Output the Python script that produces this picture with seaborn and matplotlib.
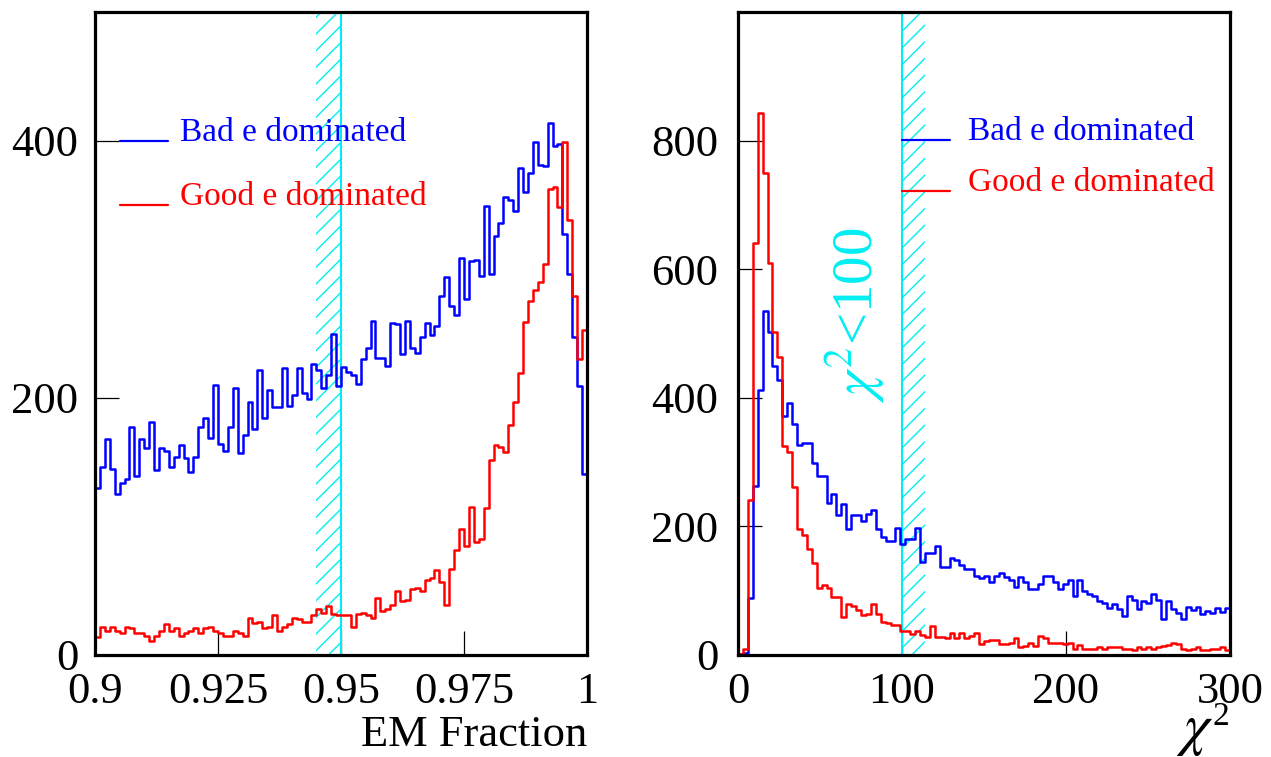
import numpy as np
import pandas as pd
import matplotlib
matplotlib.use("Agg")
import matplotlib.pyplot as plt
import seaborn as sns

# ---------------------------------------------------------------- data
# EM fraction, 100 bins over [0.9, 1.0]
em_range = (0.9, 1.0)
em_bad = [130, 146, 168, 145, 125, 134, 137, 177, 139, 168,
          161, 181, 144, 161, 159, 146, 154, 163, 153, 142,
          154, 177, 184, 169, 210, 164, 159, 177, 208, 157,
          171, 197, 176, 222, 184, 206, 193, 193, 223, 194,
          202, 223, 204, 199, 226, 222, 208, 218, 250, 209,
          224, 220, 218, 211, 230, 239, 260, 231, 231, 225,
          258, 257, 234, 260, 239, 235, 247, 258, 249, 256,
          279, 294, 271, 264, 309, 277, 306, 307, 295, 349,
          296, 326, 336, 356, 354, 345, 379, 360, 375, 399,
          381, 380, 414, 396, 397, 327, 296, 247, 209, 141]
em_good = [14, 22, 19, 22, 19, 17, 22, 21, 17, 17,
           15, 11, 15, 19, 24, 19, 21, 15, 17, 19,
           21, 17, 21, 22, 19, 17, 15, 15, 19, 17,
           15, 29, 25, 26, 21, 22, 31, 19, 22, 24,
           29, 28, 26, 26, 31, 36, 33, 38, 32, 31,
           31, 31, 22, 32, 33, 31, 29, 44, 34, 36,
           39, 50, 42, 43, 51, 52, 50, 58, 60, 66,
           57, 39, 67, 82, 98, 85, 115, 88, 90, 114,
           152, 163, 162, 158, 179, 197, 219, 259, 275, 284,
           290, 304, 362, 364, 348, 399, 338, 279, 230, 253]
em_ticks = [0.9, 0.925, 0.95, 0.975, 1.0]
em_tick_labels = ["0.9", "0.925", "0.95", "0.975", "1"]
em_yticks = [0, 200, 400]
em_cut = 0.95
em_band = (0.945, 0.95)

# chi-square, 100 bins over [0, 300]
chi2_range = (0, 300)
chi2_bad = [2, 3, 89, 263, 412, 535, 503, 449, 427, 371,
            392, 360, 326, 329, 329, 299, 279, 279, 237, 251,
            218, 235, 196, 217, 218, 209, 220, 226, 196, 183,
            178, 178, 198, 172, 180, 180, 198, 144, 158, 158,
            169, 137, 137, 151, 147, 140, 133, 133, 123, 120,
            123, 114, 123, 128, 121, 117, 106, 122, 114, 103,
            102, 110, 123, 123, 114, 102, 110, 116, 91, 116,
            100, 95, 91, 84, 81, 73, 79, 71, 61, 91,
            86, 71, 84, 81, 95, 86, 56, 84, 71, 65,
            56, 74, 70, 74, 64, 69, 65, 73, 67, 73]
chi2_good = [2, 9, 241, 641, 843, 749, 609, 503, 464, 325,
             315, 262, 196, 186, 165, 143, 104, 109, 104, 90,
             90, 59, 80, 76, 70, 62, 63, 80, 63, 52,
             50, 46, 46, 38, 37, 33, 38, 31, 28, 45,
             28, 28, 26, 34, 26, 34, 26, 30, 34, 17,
             21, 23, 23, 17, 17, 19, 26, 12, 14, 19,
             14, 30, 27, 19, 18, 18, 17, 18, 10, 16,
             9, 10, 10, 12, 10, 12, 12, 12, 10, 10,
             7, 13, 10, 12, 10, 13, 14, 16, 18, 17,
             10, 8, 9, 13, 8, 8, 9, 10, 13, 7]
chi2_ticks = [0, 100, 200, 300]
chi2_tick_labels = ["0", "100", "200", "300"]
chi2_yticks = [0, 200, 400, 600, 800]
chi2_cut = 100
chi2_band = (100, 114)

series_names = ["Bad e dominated", "Good e dominated"]

# ---------------------------------------------------------------- style
BLUE, RED, CYAN = "#0000ff", "#ff0000", "#00eef2"
sns.set_style("white")
plt.rcParams["font.family"] = ["Liberation Serif", "DejaVu Serif"]
plt.rcParams["mathtext.fontset"] = "stix"
plt.rcParams["hatch.linewidth"] = 1.0
plt.rcParams["hatch.color"] = CYAN
plt.rcParams["text.color"] = "black"

W, H = 1271, 757
fig = plt.figure(figsize=(W / 100, H / 100), dpi=100, facecolor="white")
ax1 = fig.add_axes([95 / W, 102 / H, 492 / W, 643 / H])
ax2 = fig.add_axes([738 / W, 102 / H, 492 / W, 643 / H])


def frame(x_range, counts_bad, counts_good):
    n = len(counts_bad)
    edges = np.linspace(x_range[0], x_range[1], n + 1)
    centers = 0.5 * (edges[:-1] + edges[1:])
    return pd.DataFrame({"x": centers, "bad": counts_bad, "good": counts_good})


def draw_panel(ax, df, x_range):
    for col, color in (("bad", BLUE), ("good", RED)):
        sns.histplot(data=df, x="x", weights=col, bins=len(df), binrange=x_range,
                     element="step", fill=False, color=color, linewidth=1.8,
                     ax=ax, zorder=3)
    ax.set_xlabel("")
    ax.set_ylabel("")
    for s in ax.spines.values():
        s.set_linewidth(2.3)
        s.set_color("black")
        s.set_zorder(5)
    ax.tick_params(axis="both", direction="in", length=17, width=0.9,
                   color="black", labelcolor="black", labelsize=32,
                   left=True, bottom=True, top=False, right=False)
    ax.tick_params(axis="x", pad=12)


def draw_legend(ax, x0, x1, xt, ys):
    for name, color, y in zip(series_names, (BLUE, RED), ys):
        ax.plot([x0, x1], [y, y], transform=ax.transAxes, color=color,
                lw=1.6, clip_on=False, zorder=4)
        ax.text(xt, y, name, transform=ax.transAxes, color=color,
                fontsize=24, va="baseline", ha="left", zorder=4)


# ---------------------------------------------------------------- EM fraction panel
df_em = frame(em_range, em_bad, em_good)
ax1.axvspan(*em_band, facecolor="none", edgecolor=CYAN, hatch="//", linewidth=0, zorder=1)
ax1.axvline(em_cut, color=CYAN, lw=1.5, zorder=2)
draw_panel(ax1, df_em, em_range)
ax1.set_xlim(*em_range)
ax1.set_ylim(0, 500)
ax1.set_xticks(em_ticks)
ax1.set_xticklabels(em_tick_labels)
ax1.set_yticks(em_yticks)
ax1.set_yticklabels([str(v) for v in em_yticks])
ax1.tick_params(axis="y", pad=12)
draw_legend(ax1, 0.051, 0.148, 0.173, (0.799, 0.700))

# ---------------------------------------------------------------- chi-square panel
df_chi = frame(chi2_range, chi2_bad, chi2_good)
ax2.axvspan(*chi2_band, facecolor="none", edgecolor=CYAN, hatch="//", linewidth=0, zorder=1)
ax2.axvline(chi2_cut, color=CYAN, lw=1.5, zorder=2)
draw_panel(ax2, df_chi, chi2_range)
ax2.set_xlim(*chi2_range)
ax2.set_ylim(0, 1000)
ax2.set_xticks(chi2_ticks)
ax2.set_xticklabels(chi2_tick_labels)
ax2.set_yticks(chi2_yticks)
ax2.set_yticklabels([str(v) for v in chi2_yticks])
ax2.tick_params(axis="y", pad=14)
draw_legend(ax2, 0.333, 0.431, 0.4675, (0.801, 0.721))
ax2.text(0.238, 0.529, r"$\chi^{2}$<100", transform=ax2.transAxes, rotation=90,
         ha="center", va="center", color=CYAN, fontsize=41, zorder=4)

# ---------------------------------------------------------------- axis titles
fig.text(587 / W, 11 / H, "EM Fraction", ha="right", va="baseline", fontsize=32)
fig.text(1213 / W, 13 / H, r"$\chi$", ha="right", va="baseline", fontsize=42)
fig.text(1213 / W, 32 / H, "2", ha="left", va="baseline", fontsize=24)

fig.savefig("out.png", dpi=100, facecolor="white")
